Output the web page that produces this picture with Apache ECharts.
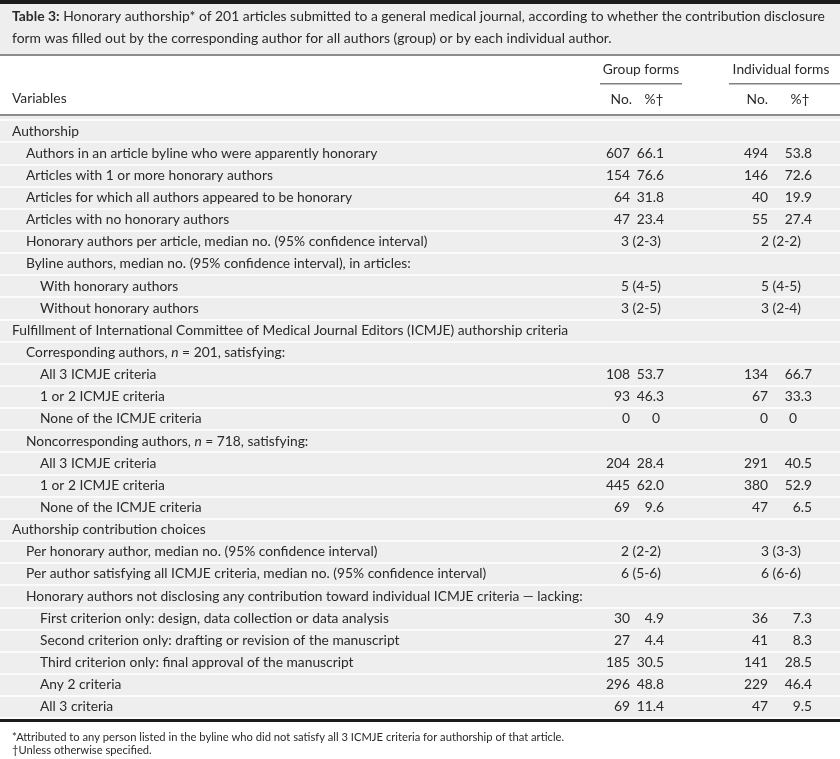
<!DOCTYPE html>
<html><head><meta charset="utf-8">
<script src="https://cdn.jsdelivr.net/npm/echarts@6/dist/echarts.min.js"></script>
<style>html,body{margin:0;padding:0;background:#fff}#c{width:840px;height:759px}</style>
</head><body><div id="c"></div>
<script>
// ---------- DATA ----------
const rowLabels = [
  'Authorship',
  'Authors in an article byline who were apparently honorary',
  'Articles with 1 or more honorary authors',
  'Articles for which all authors appeared to be honorary',
  'Articles with no honorary authors',
  'Honorary authors per article, median no. (95% confidence interval)',
  'Byline authors, median no. (95% confidence interval), in articles:',
  'With honorary authors',
  'Without honorary authors',
  'Fulfillment of International Committee of Medical Journal Editors (ICMJE) authorship criteria',
  'Corresponding authors, {n} = 201, satisfying:',
  'All 3 ICMJE criteria',
  '1 or 2 ICMJE criteria',
  'None of the ICMJE criteria',
  'Noncorresponding authors, {n} = 718, satisfying:',
  'All 3 ICMJE criteria',
  '1 or 2 ICMJE criteria',
  'None of the ICMJE criteria',
  'Authorship contribution choices',
  'Per honorary author, median no. (95% confidence interval)',
  'Per author satisfying all ICMJE criteria, median no. (95% confidence interval)',
  'Honorary authors not disclosing any contribution toward individual ICMJE criteria \u2014 lacking:',
  'First criterion only: design, data collection or data analysis',
  'Second criterion only: drafting or revision of the manuscript',
  'Third criterion only: final approval of the manuscript',
  'Any 2 criteria',
  'All 3 criteria'
];
const rowLevels = [0,1,1,1,1,1,1,2,2,0,1,2,2,2,1,2,2,2,0,1,1,1,2,2,2,2,2];
const groupNo  = [null,607,154,64,47,null,null,null,null,null,null,108,93,0,null,204,445,69,null,null,null,null,30,27,185,296,69];
const groupPct = [null,66.1,76.6,31.8,23.4,null,null,null,null,null,null,53.7,46.3,0,null,28.4,62.0,9.6,null,null,null,null,4.9,4.4,30.5,48.8,11.4];
const indivNo  = [null,494,146,40,55,null,null,null,null,null,null,134,67,0,null,291,380,47,null,null,null,null,36,41,141,229,47];
const indivPct = [null,53.8,72.6,19.9,27.4,null,null,null,null,null,null,66.7,33.3,0,null,40.5,52.9,6.5,null,null,null,null,7.3,8.3,28.5,46.4,9.5];
const groupMedian = [null,null,null,null,null,'3 (2-3)',null,'5 (4-5)','3 (2-5)',null,null,null,null,null,null,null,null,null,null,'2 (2-2)','6 (5-6)',null,null,null,null,null,null];
const indivMedian = [null,null,null,null,null,'2 (2-2)',null,'5 (4-5)','3 (2-4)',null,null,null,null,null,null,null,null,null,null,'3 (3-3)','6 (6-6)',null,null,null,null,null,null];
const groupHeaders = ['Group forms','Individual forms'];
const subHeaders = ['No.','%\u2020'];
const titleBold = 'Table 3:';
const titleText = ' Honorary authorship* of 201 articles submitted to a general medical journal, according to whether the contribution disclosure\nform was filled out by the corresponding author for all authors (group) or by each individual author.';
const footnotes = '*Attributed to any person listed in the byline who did not satisfy all 3 ICMJE criteria for authorship of that article.\n\u2020Unless otherwise specified.';

// ---------- LAYOUT ----------
const FONT = 'Lato';
const TXT = '#2a2a2a';
const FS = 13.8;
const colGroupNo = 630, colGroupPct = 664, colGroupZero = 656, colGroupMid = 641;
const colIndNo = 768, colIndPct = 812, colIndZero = 793, colIndMid = 781;

const fmtPct = v => v === 0 ? '0' : v.toFixed(1);

function textSeries(name, arr, x, align, fmt, zeroX) {
  return {
    type: 'custom', name: name, coordinateSystem: 'cartesian2d',
    data: arr.map((v, i) => [x, i]),
    renderItem: function (params, api) {
      const v = arr[params.dataIndex];
      if (v === null || v === undefined) return null;
      const isZero = zeroX !== undefined && v === 0;
      const p = api.coord([isZero ? zeroX : api.value(0), api.value(1)]);
      return {
        type: 'text', x: p[0], y: p[1],
        style: { text: fmt ? fmt(v) : String(v), textAlign: isZero ? 'center' : align, textVerticalAlign: 'middle',
                 font: FS + 'px ' + FONT, fill: TXT }
      };
    }
  };
}

function hText(t, x, y, align) {
  return { type: 'text', x: x, y: y, style: { text: t, textAlign: align, textVerticalAlign: 'middle', font: FS + 'px ' + FONT, fill: TXT } };
}

const chart = echarts.init(document.getElementById('c'), null, { renderer: 'canvas' });
chart.setOption({
  animation: false,
  backgroundColor: '#ffffff',
  title: [{
    left: 12, top: 6, padding: 0,
    text: '{b|' + titleBold + '}' + titleText.split('\n').map(s => '{n|' + s + '}').join('\n'),
    textStyle: {
      fontWeight: 'normal', fontFamily: FONT, fontSize: 13.9, color: TXT, lineHeight: 22,
      rich: {
        b: { fontFamily: FONT, fontWeight: 'bold', fontSize: 13.9, color: TXT, lineHeight: 22 },
        n: { fontFamily: FONT, fontWeight: 'normal', fontSize: 13.9, color: TXT, lineHeight: 22 }
      }
    }
  }, {
    left: 12, top: 730.5, padding: 0,
    text: footnotes,
    textStyle: { fontFamily: FONT, fontSize: 11.2, color: TXT, fontWeight: 'normal', lineHeight: 13 }
  }],
  graphic: [
    { type: 'rect', shape: { x: 0, y: 0, width: 840, height: 4 }, style: { fill: '#1c1c1c' } },
    { type: 'rect', shape: { x: 0, y: 4, width: 840, height: 50 }, style: { fill: '#eeeeee' } },
    { type: 'rect', shape: { x: 0, y: 54, width: 840, height: 2 }, style: { fill: '#8c8c8c' } },
    { type: 'rect', shape: { x: 0, y: 114, width: 840, height: 2 }, style: { fill: '#8c8c8c' } },
    { type: 'rect', shape: { x: 0, y: 116, width: 840, height: 4 }, style: { fill: '#eeeeee' } },
    { type: 'rect', shape: { x: 0, y: 718, width: 840, height: 1 }, style: { fill: '#eeeeee' } },
    { type: 'rect', shape: { x: 0, y: 719, width: 840, height: 3 }, style: { fill: '#1c1c1c' } },
    { type: 'rect', shape: { x: 600, y: 83, width: 82, height: 1.5 }, style: { fill: '#808080' } },
    { type: 'rect', shape: { x: 729, y: 83, width: 111, height: 1.5 }, style: { fill: '#808080' } },
    hText(groupHeaders[0], colGroupMid, 70, 'center'),
    hText(groupHeaders[1], colIndMid, 70, 'center'),
    hText('Variables', 12, 99, 'left'),
    hText(subHeaders[0], 632, 100, 'right'),
    hText(subHeaders[1], 654, 100, 'center'),
    hText(subHeaders[0], 768, 100, 'right'),
    hText(subHeaders[1], 800, 100, 'center')
  ],
  grid: { left: 0, right: 0, top: 120, height: 598, show: true, backgroundColor: '#eeeeee', borderWidth: 0, containLabel: false },
  xAxis: { type: 'value', min: 0, max: 840, show: false },
  yAxis: {
    type: 'category', inverse: true, data: rowLabels,
    axisLine: { show: false }, axisTick: { show: false },
    splitLine: { show: true, lineStyle: { color: '#ffffff', width: 1.5 } },
    axisLabel: {
      inside: true, margin: 12, interval: 0, color: TXT, fontFamily: FONT, fontSize: FS,
      formatter: function (val, idx) {
        const lvl = rowLevels[idx];
        const ind = lvl > 0 ? '{i' + lvl + '| }' : '';
        const parts = val.split('{n}');
        return ind + parts.map(s => '{t|' + s + '}').join('{it|n}');
      },
      rich: {
        i1: { width: 14 }, i2: { width: 28 },
        t: { fontFamily: FONT, fontSize: FS, color: TXT },
        it: { fontFamily: FONT, fontSize: FS, color: TXT, fontStyle: 'italic' }
      }
    }
  },
  series: [
    textSeries('Group No.', groupNo, colGroupNo, 'right'),
    textSeries('Group %', groupPct, colGroupPct, 'right', fmtPct, colGroupZero),
    textSeries('Group median', groupMedian, colGroupMid, 'center'),
    textSeries('Individual No.', indivNo, colIndNo, 'right'),
    textSeries('Individual %', indivPct, colIndPct, 'right', fmtPct, colIndZero),
    textSeries('Individual median', indivMedian, colIndMid, 'center')
  ]
});
</script>
</body></html>
